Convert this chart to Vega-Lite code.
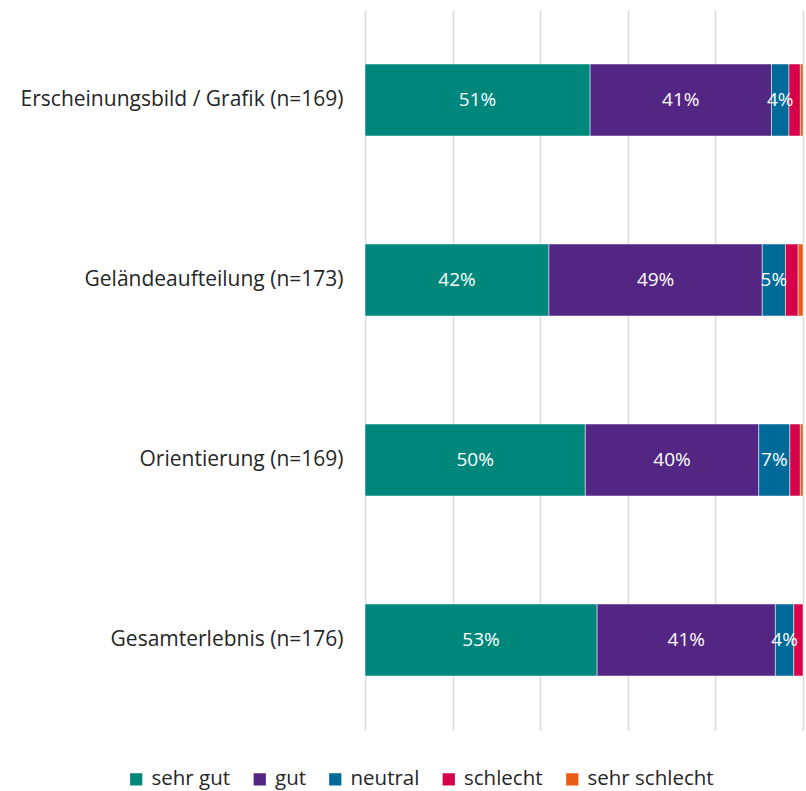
{
  "$schema": "https://vega.github.io/schema/vega-lite/v6.json",
  "width": 438,
  "height": 720,
  "autosize": {"type": "none"},
  "padding": {"left": 365, "top": 10, "right": 3, "bottom": 61},
  "background": "white",
  "config": {"view": {"stroke": null}, "font": "Open Sans"},
  "data": {"values": [
    {"category": "Erscheinungsbild / Grafik (n=169)", "rating": "sehr gut", "rank": 1, "pct": 51.4},
    {"category": "Erscheinungsbild / Grafik (n=169)", "rating": "gut", "rank": 2, "pct": 41.4},
    {"category": "Erscheinungsbild / Grafik (n=169)", "rating": "neutral", "rank": 3, "pct": 4.0},
    {"category": "Erscheinungsbild / Grafik (n=169)", "rating": "schlecht", "rank": 4, "pct": 2.6},
    {"category": "Erscheinungsbild / Grafik (n=169)", "rating": "sehr schlecht", "rank": 5, "pct": 0.6},
    {"category": "Geländeaufteilung (n=173)", "rating": "sehr gut", "rank": 1, "pct": 42.0},
    {"category": "Geländeaufteilung (n=173)", "rating": "gut", "rank": 2, "pct": 48.7},
    {"category": "Geländeaufteilung (n=173)", "rating": "neutral", "rank": 3, "pct": 5.3},
    {"category": "Geländeaufteilung (n=173)", "rating": "schlecht", "rank": 4, "pct": 2.9},
    {"category": "Geländeaufteilung (n=173)", "rating": "sehr schlecht", "rank": 5, "pct": 1.1},
    {"category": "Orientierung (n=169)", "rating": "sehr gut", "rank": 1, "pct": 50.3},
    {"category": "Orientierung (n=169)", "rating": "gut", "rank": 2, "pct": 39.6},
    {"category": "Orientierung (n=169)", "rating": "neutral", "rank": 3, "pct": 7.1},
    {"category": "Orientierung (n=169)", "rating": "schlecht", "rank": 4, "pct": 2.4},
    {"category": "Orientierung (n=169)", "rating": "sehr schlecht", "rank": 5, "pct": 0.6},
    {"category": "Gesamterlebnis (n=176)", "rating": "sehr gut", "rank": 1, "pct": 53.0},
    {"category": "Gesamterlebnis (n=176)", "rating": "gut", "rank": 2, "pct": 40.7},
    {"category": "Gesamterlebnis (n=176)", "rating": "neutral", "rank": 3, "pct": 4.2},
    {"category": "Gesamterlebnis (n=176)", "rating": "schlecht", "rank": 4, "pct": 2.1}
  ]},
  "transform": [
    {"stack": "pct", "groupby": ["category"], "sort": [{"field": "rank", "order": "ascending"}], "offset": "normalize", "as": ["x0", "x1"]},
    {"calculate": "(datum.x0 + datum.x1) / 2", "as": "xmid"},
    {"calculate": "format(datum.pct, '.0f') + '%'", "as": "label"}
  ],
  "encoding": {
    "y": {
      "field": "category", "type": "nominal", "title": null,
      "sort": ["Erscheinungsbild / Grafik (n=169)", "Geländeaufteilung (n=173)", "Orientierung (n=169)", "Gesamterlebnis (n=176)"],
      "scale": {"paddingInner": 0.6, "paddingOuter": 0.3},
      "axis": {"ticks": false, "domain": false, "labelFontSize": 21, "labelColor": "#262626", "labelPadding": 22, "labelLimit": 400}
    }
  },
  "layer": [
    {
      "mark": {"type": "bar", "stroke": "white", "strokeWidth": 0.5},
      "encoding": {
        "x": {"field": "x0", "type": "quantitative", "scale": {"domain": [0, 1], "nice": false},
              "axis": {"values": [0, 0.2, 0.4, 0.6, 0.8, 1], "labels": false, "ticks": false, "domain": false, "title": null, "grid": true, "gridColor": "#d9d9d9", "gridWidth": 1.5}},
        "x2": {"field": "x1"},
        "color": {
          "field": "rating", "type": "nominal",
          "scale": {"domain": ["sehr gut", "gut", "neutral", "schlecht", "sehr schlecht"],
                    "range": ["#00877C", "#532683", "#006A98", "#D7004B", "#EA5B13"]},
          "legend": {"title": null, "orient": "none", "direction": "horizontal", "legendX": -239, "legendY": 759,
                     "symbolType": "square", "symbolSize": 150, "symbolStrokeWidth": 0, "symbolOpacity": 1,
                     "labelFontSize": 20.5, "labelColor": "#262626", "labelOffset": 5, "columnPadding": 18.5}
        }
      }
    },
    {
      "transform": [{"filter": "datum.pct >= 3.5"}],
      "mark": {"type": "text", "color": "white", "fontSize": 19, "align": "center", "baseline": "middle"},
      "encoding": {
        "x": {"field": "xmid", "type": "quantitative"},
        "text": {"field": "label", "type": "nominal"}
      }
    }
  ]
}
